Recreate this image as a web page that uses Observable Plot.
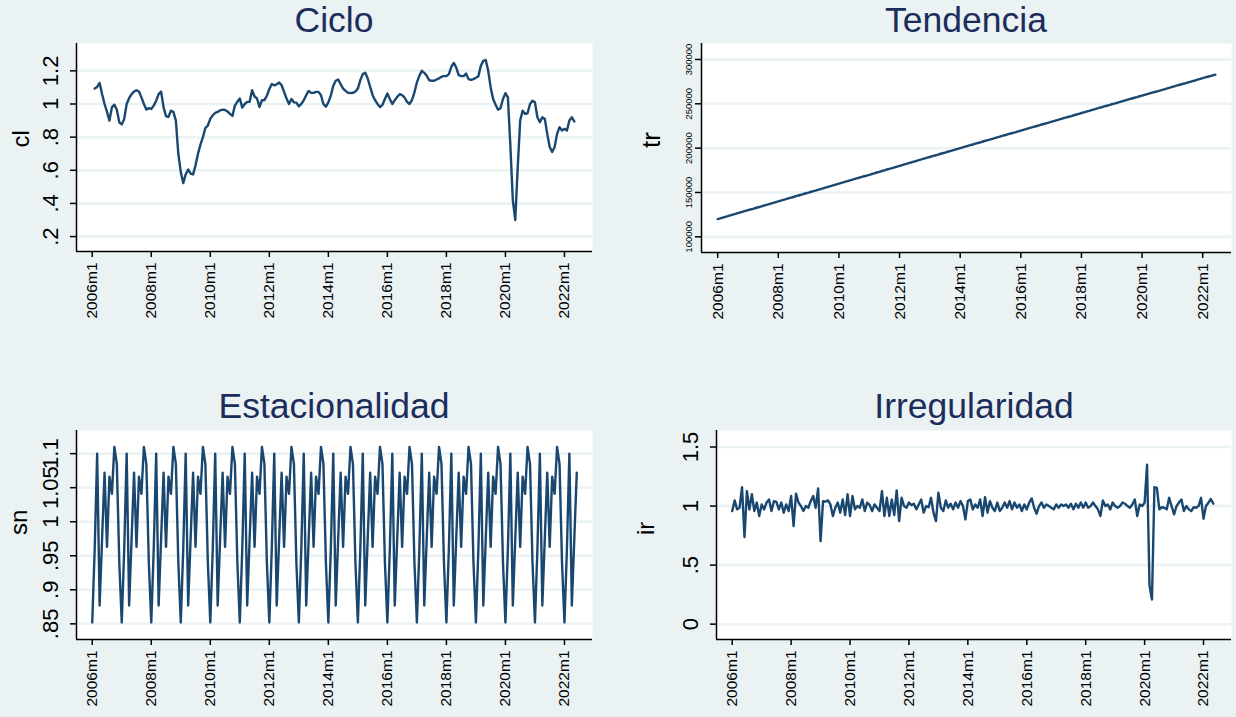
<!DOCTYPE html>
<html><head><meta charset="utf-8">
<script src="https://cdn.jsdelivr.net/npm/d3@7"></script>
<script src="https://cdn.jsdelivr.net/npm/@observablehq/plot@0.6"></script>
<style>
body{margin:0;background:#EAF2F3;}
#wrap{position:relative;width:1236px;height:717px;background:#EAF2F3;font-family:"Liberation Sans",Arial,sans-serif;overflow:hidden}
.panel{position:absolute}
.title{position:absolute;width:420px;font-size:35.5px;color:#1c2d5c;text-align:center;line-height:40px;white-space:nowrap}
</style></head><body><div id="wrap"></div>
<script>
// Month index 0 = 2006m1
const xTickMonths = [0, 24, 48, 72, 96, 120, 144, 168, 192];
const xTickLabels = ["2006m1","2008m1","2010m1","2012m1","2014m1","2016m1","2018m1","2020m1","2022m1"];

// Ciclo (cl): 2006m2 .. 2022m5
const cycleStart = 1;
const cycle = [
1.093,1.103,1.127,1.06,1.0,0.952,0.90,0.98,0.996,0.965,0.89,0.877,
0.91,1.0,1.035,1.06,1.075,1.083,1.075,1.04,1.0,0.966,0.975,0.97,
0.99,1.02,1.06,1.075,0.98,0.926,0.922,0.96,0.952,0.90,0.70,0.589,
0.523,0.575,0.605,0.58,0.575,0.63,0.70,0.755,0.80,0.855,0.87,0.91,
0.932,0.946,0.952,0.962,0.966,0.964,0.955,0.94,0.928,0.99,1.013,1.033,
0.978,1.0,1.013,1.013,1.083,1.045,1.033,0.982,1.023,1.023,1.05,1.09,
1.12,1.113,1.119,1.129,1.113,1.073,1.033,1.0,1.03,1.01,1.008,0.986,
1.0,1.023,1.053,1.079,1.067,1.067,1.073,1.073,1.053,1.0,0.984,1.01,
1.05,1.11,1.14,1.148,1.12,1.093,1.079,1.067,1.066,1.067,1.075,1.093,
1.144,1.18,1.188,1.154,1.103,1.053,1.023,1.0,0.982,0.995,1.03,1.063,
1.03,1.0,1.023,1.043,1.059,1.053,1.039,1.013,1.0,1.023,1.07,1.13,
1.17,1.20,1.188,1.17,1.143,1.14,1.14,1.148,1.155,1.165,1.168,1.168,
1.18,1.224,1.248,1.22,1.174,1.168,1.168,1.184,1.15,1.145,1.15,1.158,
1.168,1.23,1.26,1.265,1.2,1.10,1.03,0.995,0.965,0.975,1.03,1.065,
1.04,0.75,0.42,0.30,0.62,0.90,0.96,0.94,0.944,1.0,1.02,1.01,
0.92,0.89,0.92,0.91,0.82,0.74,0.71,0.74,0.82,0.86,0.84,0.85,
0.84,0.90,0.92,0.895];

// Tendencia (tr): 2006m1 .. 2022m6
const trendStart = 0;
const trend = [
120000,120800,121700,122500,123300,124200,125000,125800,126700,127500,128300,129200,
130000,130800,131600,132500,133300,134100,135000,135800,136600,137500,138300,139100,
139900,140800,141600,142400,143300,144100,144900,145800,146600,147400,148300,149100,
149900,150800,151600,152400,153300,154100,154900,155800,156600,157400,158300,159100,
159900,160800,161600,162500,163300,164100,165000,165800,166600,167500,168300,169100,
169900,170800,171600,172500,173300,174200,175000,175900,176700,177500,178400,179200,
180000,180900,181700,182500,183400,184200,185000,185900,186700,187500,188400,189200,
190000,190900,191700,192500,193400,194200,195000,195900,196700,197500,198400,199200,
200000,200800,201700,202500,203300,204100,205000,205800,206600,207500,208300,209100,
209900,210700,211600,212400,213200,214000,214800,215700,216500,217300,218100,219000,
219800,220600,221400,222300,223100,223900,224700,225500,226400,227200,228000,228800,
229700,230500,231300,232100,233000,233800,234600,235400,236200,237100,237900,238700,
239600,240400,241200,242000,242900,243700,244500,245300,246100,247000,247800,248600,
249500,250300,251100,251900,252700,253500,254400,255200,256000,256800,257600,258500,
259300,260100,260900,261700,262500,263300,264100,264900,265700,266500,267400,268200,
269100,269900,270700,271500,272300,273100,273900,274700,275500,276300,277200,278000,
278900,279700,280500,281300,282100,282900];

// Estacionalidad (sn): 2006m1 .. 2022m6
const seasonStart = 0;
const season = [
0.852,0.96,1.10,0.877,0.975,1.072,0.963,1.066,1.041,1.11,1.085,0.94,
0.852,0.96,1.10,0.877,0.975,1.072,0.963,1.066,1.041,1.11,1.085,0.94,
0.852,0.96,1.10,0.877,0.975,1.072,0.963,1.066,1.041,1.11,1.085,0.94,
0.852,0.96,1.10,0.877,0.975,1.072,0.963,1.066,1.041,1.11,1.085,0.94,
0.852,0.96,1.10,0.877,0.975,1.072,0.963,1.066,1.041,1.11,1.085,0.94,
0.852,0.96,1.10,0.877,0.975,1.072,0.963,1.066,1.041,1.11,1.085,0.94,
0.852,0.96,1.10,0.877,0.975,1.072,0.963,1.066,1.041,1.11,1.085,0.94,
0.852,0.96,1.10,0.877,0.975,1.072,0.963,1.066,1.041,1.11,1.085,0.94,
0.852,0.96,1.10,0.877,0.975,1.072,0.963,1.066,1.041,1.11,1.085,0.94,
0.852,0.96,1.10,0.877,0.975,1.072,0.963,1.066,1.041,1.11,1.085,0.94,
0.852,0.96,1.10,0.877,0.975,1.072,0.963,1.066,1.041,1.11,1.085,0.94,
0.852,0.96,1.10,0.877,0.975,1.072,0.963,1.066,1.041,1.11,1.085,0.94,
0.852,0.96,1.10,0.877,0.975,1.072,0.963,1.066,1.041,1.11,1.085,0.94,
0.852,0.96,1.10,0.877,0.975,1.072,0.963,1.066,1.041,1.11,1.085,0.94,
0.852,0.96,1.10,0.877,0.975,1.072,0.963,1.066,1.041,1.11,1.085,0.94,
0.852,0.96,1.10,0.877,0.975,1.072,0.963,1.066,1.041,1.11,1.085,0.94,
0.852,0.96,1.10,0.877,0.975,1.072];

// Irregularidad (ir): 2006m1 .. 2022m5
const irregStart = 0;
const irreg = [
0.958,1.048,0.972,0.986,1.16,0.737,1.127,0.97,1.10,0.958,1.03,0.915,
1.014,0.972,1.03,1.056,0.958,1.042,1.035,0.972,1.03,0.944,1.014,0.958,
1.085,0.83,1.105,1.03,1.0,0.958,1.0,0.986,1.042,1.085,0.986,1.15,
0.703,1.042,1.037,1.048,1.014,0.915,0.986,1.03,0.944,1.056,0.924,1.10,
0.915,1.085,0.972,1.0,0.986,1.056,0.958,1.03,1.008,0.958,1.014,0.986,
0.958,1.127,0.915,1.07,0.915,1.056,0.924,1.133,0.873,1.07,1.0,0.986,
1.03,1.008,1.02,0.972,1.014,1.056,0.944,1.0,0.99,1.07,0.944,0.873,
1.113,0.986,0.958,1.048,0.986,1.02,0.972,1.03,0.986,1.042,1.0,0.887,
1.042,1.056,0.972,1.014,0.986,1.056,0.915,1.076,0.944,1.042,0.986,0.958,
1.03,0.958,0.986,1.03,0.986,1.042,0.972,1.03,0.986,1.014,0.958,1.014,
0.972,1.03,1.065,0.986,0.935,1.0,1.03,0.986,1.014,1.0,0.986,0.972,
1.014,0.986,1.014,1.0,1.014,0.986,1.02,0.972,1.02,0.986,1.03,0.986,
1.03,0.986,1.0,1.03,1.0,0.972,0.915,1.048,1.0,1.014,0.972,1.03,
1.0,0.986,1.0,1.03,1.02,1.0,0.986,1.014,1.056,0.915,1.014,1.0,
1.028,1.35,0.326,0.208,1.16,1.154,0.972,0.99,0.986,0.972,1.07,1.0,
0.93,1.0,1.03,1.056,0.958,1.0,0.972,0.958,0.99,0.986,1.0,1.07,
0.893,1.0,1.028,1.06,1.02];

const FONT = '"Liberation Sans", Arial, Helvetica, sans-serif';
const LINE = "#1A476F";
const GRID = "#EAF2F3";
const xDomain = [-6.4, 203.4];

const fmtDec = d => (d === 0 ? "0" : String(d).replace(/^0\./, "."));

function panel(o) {
  const data = o.series.map((v, i) => ({m: o.start + i, v}));
  const svg = Plot.plot({
    width: o.width, height: o.height,
    marginLeft: o.mL, marginRight: o.mR, marginTop: o.mT, marginBottom: o.mB,
    style: {background: "transparent", fontFamily: FONT, color: "black", overflow: "visible"},
    x: {domain: xDomain},
    y: {domain: o.yDomain},
    marks: [
      Plot.frame({fill: "white", stroke: "none"}),
      Plot.gridY(o.yTicks, {stroke: GRID, strokeOpacity: 1, strokeWidth: 2.5}),
      Plot.lineY(data, {x: "m", y: "v", stroke: LINE, strokeWidth: 2.4, strokeLinejoin: "round"}),
      Plot.ruleX([xDomain[0]], {stroke: "black", strokeWidth: 1.5}),
      Plot.ruleY([o.yDomain[0]], {stroke: "black", strokeWidth: 1.5}),
      Plot.axisX(xTickMonths, {
        tickFormat: d => xTickLabels[xTickMonths.indexOf(d)],
        tickRotate: -90, fontSize: 15.5, tickSize: 6, tickPadding: 5,
        strokeWidth: 1.5, label: null, fill: "black"
      }),
      Plot.axisY(o.yTicks, {
        tickFormat: o.yFmt, tickRotate: -90, fontSize: o.yFont, tickSize: 6,
        tickPadding: o.yPad, strokeWidth: 1.5, label: null, fill: "black"
      }),
      Plot.text([o.ylab], {text: d => d, frameAnchor: "left", dx: -o.labOff, rotate: -90,
        fontSize: o.labFont, fill: "black"})
    ]
  });
  svg.classList.add("panel");
  svg.style.left = o.left + "px";
  svg.style.top = o.top + "px";
  svg.style.position = "absolute";
  const wrap = document.getElementById("wrap");
  wrap.appendChild(svg);
  const t = document.createElement("div");
  t.className = "title";
  t.textContent = o.title;
  t.style.left = (o.titleX - 210) + "px";
  t.style.top = o.titleY + "px";
  wrap.appendChild(t);
}

panel({left: 0, top: 0, width: 618, height: 358, mL: 76, mR: 26, mT: 43, mB: 107,
  yDomain: [0.11, 1.365], yTicks: [0.2, 0.4, 0.6, 0.8, 1, 1.2], yFmt: fmtDec, yFont: 22, yPad: 13,
  ylab: "cl", labOff: 55, labFont: 24, series: cycle, start: cycleStart,
  title: "Ciclo", titleX: 334, titleY: 0});

panel({left: 618, top: 0, width: 618, height: 358, mL: 83, mR: 5, mT: 43, mB: 106,
  yDomain: [82300, 318000], yTicks: [100000, 150000, 200000, 250000, 300000], yFmt: d => String(d), yFont: 9.5, yPad: 4,
  ylab: "tr", labOff: 50, labFont: 26, series: trend, start: trendStart,
  title: "Tendencia", titleX: 966, titleY: 0});

panel({left: 0, top: 358, width: 618, height: 359, mL: 76, mR: 26, mT: 72, mB: 78,
  yDomain: [0.827, 1.134], yTicks: [0.85, 0.9, 0.95, 1, 1.05, 1.1], yFmt: fmtDec, yFont: 22, yPad: 13,
  ylab: "sn", labOff: 57, labFont: 24, series: season, start: seasonStart,
  title: "Estacionalidad", titleX: 334, titleY: 386});

panel({left: 618, top: 358, width: 618, height: 359, mL: 98, mR: 5, mT: 72, mB: 78,
  yDomain: [-0.13, 1.64], yTicks: [0, 0.5, 1, 1.5], yFmt: fmtDec, yFont: 22, yPad: 13,
  ylab: "ir", labOff: 70, labFont: 24, series: irreg, start: irregStart,
  title: "Irregularidad", titleX: 974, titleY: 386});
</script></body></html>
